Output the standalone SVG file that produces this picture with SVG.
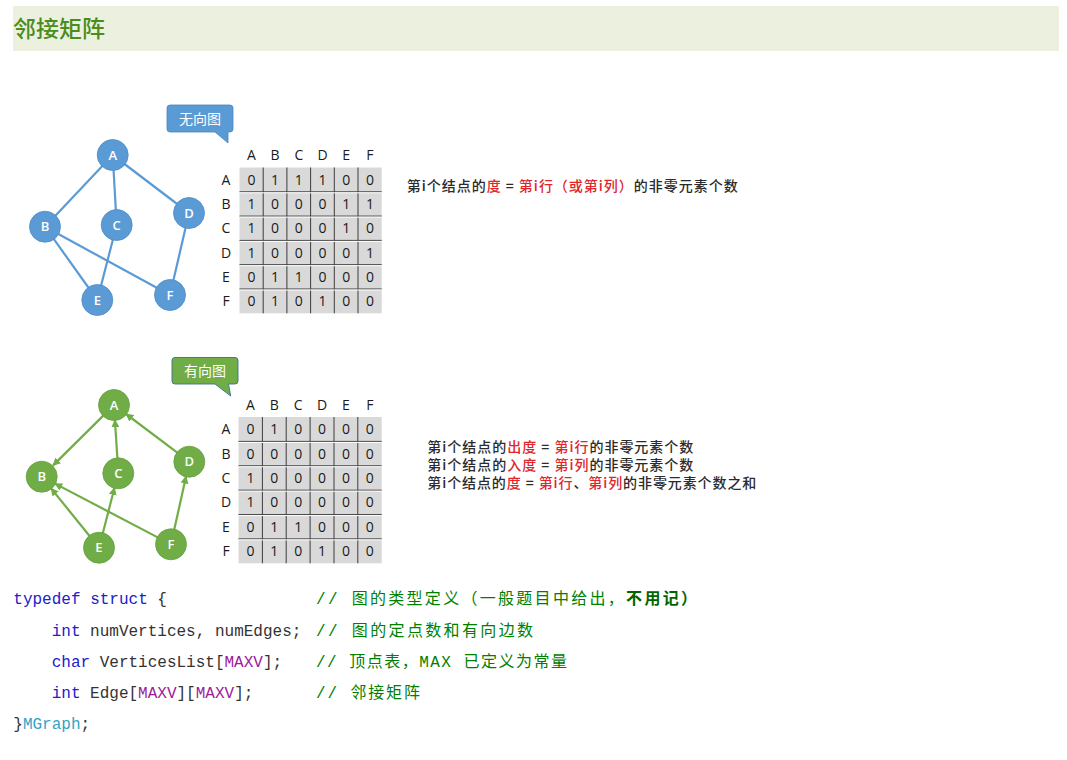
<svg xmlns="http://www.w3.org/2000/svg" width="1067" height="760" viewBox="0 0 1067 760">
<defs>
<style>
.lbl{font-family:"Open Sans","Liberation Sans",sans-serif;font-size:13px;font-weight:600;fill:#fff;text-anchor:middle}
.mx{font-family:"Open Sans","Liberation Sans",sans-serif;font-size:14px;fill:#1a1a1a;text-anchor:middle}
.cell{fill:#d9d9d9}
.vl{stroke:#3c3c3c;stroke-width:1}
.hl{stroke:#3c3c3c;stroke-width:1}
.hw{stroke:#ffffff;stroke-width:1}
.ue{stroke:#5b9bd5;stroke-width:2.2;fill:none}
.de{stroke:#70ad47;stroke-width:2.2;fill:none;marker-end:url(#arr)}
.un{fill:#5b9bd5;stroke:#4f8cc6;stroke-width:0.8}
.dn{fill:#70ad47;stroke:#64a03e;stroke-width:0.8}
.desc{font-family:"Noto Sans CJK SC","Noto Sans",sans-serif;font-size:14px;font-weight:500;fill:#2b2b2b}
.red{fill:#e0262b}
.code{font-family:"Liberation Mono","Noto Sans CJK SC",monospace;font-size:16px;fill:#333}
.kw{fill:#2020cc}
.mac{fill:#9b1b9b}
.ty{fill:#33a3c4}
.cm{font-family:"Liberation Mono","Noto Sans CJK SC",monospace;font-size:16px;fill:#008000}
.cn{font-family:"Noto Sans CJK SC",sans-serif}
.co{font-family:"Noto Sans CJK SC",sans-serif;font-size:14px;fill:#fff;text-anchor:middle}
</style>
<marker id="arr" viewBox="0 0 10 10" refX="9" refY="5" markerWidth="8" markerHeight="8" markerUnits="userSpaceOnUse" orient="auto">
<path d="M0,0 L10,5 L0,10 Z" fill="#70ad47"/>
</marker>
</defs>
<rect width="1067" height="760" fill="#ffffff"/>

<g id="header">
<rect x="13" y="6" width="1046" height="45" fill="#ebf1de"/>
<text x="13" y="37" font-family="Noto Sans CJK SC, sans-serif" font-size="23" font-weight="500" fill="#4c8c1c">邻接矩阵</text>
</g>

<!-- Undirected graph -->
<g id="undirected-edges">
<line class="ue" x1="112.7" y1="155" x2="45" y2="226.7"/>
<line class="ue" x1="112.7" y1="155" x2="116.7" y2="225"/>
<line class="ue" x1="112.7" y1="155" x2="189" y2="213"/>
<line class="ue" x1="45" y1="226.7" x2="97.3" y2="300"/>
<line class="ue" x1="45" y1="226.7" x2="170" y2="295"/>
<line class="ue" x1="116.7" y1="225" x2="97.3" y2="300"/>
<line class="ue" x1="189" y1="213" x2="170" y2="295"/>
</g>
<g id="u-A"><circle class="un" cx="112.7" cy="155" r="15.5"/><text class="lbl" x="112.7" y="159.5">A</text></g>
<g id="u-B"><circle class="un" cx="45" cy="226.7" r="15.5"/><text class="lbl" x="45" y="231.2">B</text></g>
<g id="u-C"><circle class="un" cx="116.7" cy="225" r="15.5"/><text class="lbl" x="116.7" y="229.5">C</text></g>
<g id="u-D"><circle class="un" cx="189" cy="213" r="15.5"/><text class="lbl" x="189" y="217.5">D</text></g>
<g id="u-E"><circle class="un" cx="97.3" cy="300" r="15.5"/><text class="lbl" x="97.3" y="304.5">E</text></g>
<g id="u-F"><circle class="un" cx="170" cy="295" r="15.5"/><text class="lbl" x="170" y="299.5">F</text></g>

<g id="callout-undirected">
<path d="M170,105 H230 Q233,105 233,108 V129 Q233,132 230,132 H228 L228,143 L215,132 H170 Q167,132 167,129 V108 Q167,105 170,105 Z" fill="#5b9bd5" stroke="#4a86bf" stroke-width="0.8"/>
<text class="co" x="200" y="123.5">无向图</text>
</g>

<g id="matrix-undirected">
<rect class="cell" x="239.5" y="167.5" width="142.2" height="145.8"/>
<g class="vl">
<line x1="263.2" y1="167.5" x2="263.2" y2="313.3"/>
<line x1="286.9" y1="167.5" x2="286.9" y2="313.3"/>
<line x1="310.6" y1="167.5" x2="310.6" y2="313.3"/>
<line x1="334.3" y1="167.5" x2="334.3" y2="313.3"/>
<line x1="358" y1="167.5" x2="358" y2="313.3"/>
</g>
<g class="hl">
<line x1="239.5" y1="191.8" x2="381.7" y2="191.8"/>
<line x1="239.5" y1="216.1" x2="381.7" y2="216.1"/>
<line x1="239.5" y1="240.4" x2="381.7" y2="240.4"/>
<line x1="239.5" y1="264.7" x2="381.7" y2="264.7"/>
<line x1="239.5" y1="289" x2="381.7" y2="289"/>
</g>
<g class="hw">
<line x1="239.5" y1="192.8" x2="381.7" y2="192.8"/>
<line x1="239.5" y1="217.1" x2="381.7" y2="217.1"/>
<line x1="239.5" y1="241.4" x2="381.7" y2="241.4"/>
<line x1="239.5" y1="265.7" x2="381.7" y2="265.7"/>
<line x1="239.5" y1="290" x2="381.7" y2="290"/>
</g>
<text class="mx" x="251.4 275.1 298.8 322.5 346.2 369.9" y="160">ABCDEF</text>
<text class="mx" x="226" y="184.7">A</text>
<text class="mx" x="226" y="209">B</text>
<text class="mx" x="226" y="233.3">C</text>
<text class="mx" x="226" y="257.6">D</text>
<text class="mx" x="226" y="281.9">E</text>
<text class="mx" x="226" y="306.2">F</text>
<text class="mx" x="251.4 275.1 298.8 322.5 346.2 369.9" y="184.7">011100</text>
<text class="mx" x="251.4 275.1 298.8 322.5 346.2 369.9" y="209">100011</text>
<text class="mx" x="251.4 275.1 298.8 322.5 346.2 369.9" y="233.3">100010</text>
<text class="mx" x="251.4 275.1 298.8 322.5 346.2 369.9" y="257.6">100001</text>
<text class="mx" x="251.4 275.1 298.8 322.5 346.2 369.9" y="281.9">011000</text>
<text class="mx" x="251.4 275.1 298.8 322.5 346.2 369.9" y="306.2">010100</text>
</g>

<g id="desc-undirected">
<text class="desc" x="406.7" y="190.5" textLength="331" lengthAdjust="spacing">第i个结点的<tspan class="red">度</tspan> = <tspan class="red">第i行（或第i列）</tspan>的非零元素个数</text>
</g>

<!-- Directed graph -->
<g id="directed-edges">
<line class="de" x1="103.3" y1="415.6" x2="53.1" y2="465.4"/>
<line class="de" x1="117.4" y1="458.3" x2="114.9" y2="420"/>
<line class="de" x1="177.3" y1="452.7" x2="126" y2="414"/>
<line class="de" x1="89.6" y1="536" x2="51.1" y2="488.4"/>
<line class="de" x1="102.8" y1="533.2" x2="114.5" y2="487.8"/>
<line class="de" x1="157.7" y1="537.4" x2="55" y2="483.6"/>
<line class="de" x1="174.2" y1="529.7" x2="186.1" y2="476.3"/>
</g>
<g id="d-A"><circle class="dn" cx="114" cy="405" r="15.5"/><text class="lbl" x="114" y="409.5">A</text></g>
<g id="d-B"><circle class="dn" cx="41.7" cy="476.7" r="15.5"/><text class="lbl" x="41.7" y="481.2">B</text></g>
<g id="d-C"><circle class="dn" cx="118.3" cy="473.3" r="15.5"/><text class="lbl" x="118.3" y="477.8">C</text></g>
<g id="d-D"><circle class="dn" cx="189.3" cy="461.7" r="15.5"/><text class="lbl" x="189.3" y="466.2">D</text></g>
<g id="d-E"><circle class="dn" cx="99" cy="547.7" r="15.5"/><text class="lbl" x="99" y="552.2">E</text></g>
<g id="d-F"><circle class="dn" cx="171" cy="544.3" r="15.5"/><text class="lbl" x="171" y="548.8">F</text></g>

<g id="callout-directed">
<path d="M175,357.5 H235 Q238,357.5 238,360.5 V381 Q238,384 235,384 H228.5 L230.7,396 L215,384 H175 Q172,384 172,381 V360.5 Q172,357.5 175,357.5 Z" fill="#70ad47" stroke="#3e6f8a" stroke-width="0.9"/>
<text class="co" x="205" y="376">有向图</text>
</g>

<g id="matrix-directed">
<rect class="cell" x="238.5" y="417" width="143.2" height="146.3"/>
<g class="vl">
<line x1="262.4" y1="417" x2="262.4" y2="563.3"/>
<line x1="286.2" y1="417" x2="286.2" y2="563.3"/>
<line x1="310.1" y1="417" x2="310.1" y2="563.3"/>
<line x1="334" y1="417" x2="334" y2="563.3"/>
<line x1="357.8" y1="417" x2="357.8" y2="563.3"/>
</g>
<g class="hl">
<line x1="238.5" y1="441.4" x2="381.7" y2="441.4"/>
<line x1="238.5" y1="465.8" x2="381.7" y2="465.8"/>
<line x1="238.5" y1="490.2" x2="381.7" y2="490.2"/>
<line x1="238.5" y1="514.6" x2="381.7" y2="514.6"/>
<line x1="238.5" y1="538.9" x2="381.7" y2="538.9"/>
</g>
<g class="hw">
<line x1="238.5" y1="442.4" x2="381.7" y2="442.4"/>
<line x1="238.5" y1="466.8" x2="381.7" y2="466.8"/>
<line x1="238.5" y1="491.2" x2="381.7" y2="491.2"/>
<line x1="238.5" y1="515.6" x2="381.7" y2="515.6"/>
<line x1="238.5" y1="539.9" x2="381.7" y2="539.9"/>
</g>
<text class="mx" x="250.4 274.3 298.2 322 345.9 369.8" y="410">ABCDEF</text>
<text class="mx" x="226" y="434.2">A</text>
<text class="mx" x="226" y="458.6">B</text>
<text class="mx" x="226" y="483">C</text>
<text class="mx" x="226" y="507.4">D</text>
<text class="mx" x="226" y="531.7">E</text>
<text class="mx" x="226" y="556.1">F</text>
<text class="mx" x="250.4 274.3 298.2 322 345.9 369.8" y="434.2">010000</text>
<text class="mx" x="250.4 274.3 298.2 322 345.9 369.8" y="458.6">000000</text>
<text class="mx" x="250.4 274.3 298.2 322 345.9 369.8" y="483">100000</text>
<text class="mx" x="250.4 274.3 298.2 322 345.9 369.8" y="507.4">100000</text>
<text class="mx" x="250.4 274.3 298.2 322 345.9 369.8" y="531.7">011000</text>
<text class="mx" x="250.4 274.3 298.2 322 345.9 369.8" y="556.1">010100</text>
</g>

<g id="desc-directed">
<text class="desc" x="427.3" y="452.3" textLength="266" lengthAdjust="spacing">第i个结点的<tspan class="red">出度</tspan> = <tspan class="red">第i行</tspan>的非零元素个数</text>
<text class="desc" x="427.3" y="470.2" textLength="266" lengthAdjust="spacing">第i个结点的<tspan class="red">入度</tspan> = <tspan class="red">第i列</tspan>的非零元素个数</text>
<text class="desc" x="427.3" y="488.3" textLength="329" lengthAdjust="spacing">第i个结点的<tspan class="red">度</tspan> = <tspan class="red">第i行</tspan>、<tspan class="red">第i列</tspan>的非零元素个数之和</text>
</g>

<g id="code">
<text class="code" x="13.3" y="604"><tspan class="kw">typedef</tspan> <tspan class="kw">struct</tspan> {</text>
<text class="code" x="51.7" y="635.5"><tspan class="kw">int</tspan> numVertices, numEdges;</text>
<text class="code" x="51.7" y="666.5"><tspan class="kw">char</tspan> VerticesList[<tspan class="mac">MAXV</tspan>];</text>
<text class="code" x="51.7" y="697.5"><tspan class="kw">int</tspan> Edge[<tspan class="mac">MAXV</tspan>][<tspan class="mac">MAXV</tspan>];</text>
<text class="code" x="13.3" y="729">}<tspan class="ty">MGraph</tspan>;</text>
<text class="cm" x="316" y="604" textLength="381" lengthAdjust="spacing">// <tspan class="cn">图的类型定义（一般题目中给出，</tspan><tspan class="cn" font-weight="bold" fill="#006400">不用记）</tspan></text>
<text class="cm" x="316" y="635.5" textLength="217" lengthAdjust="spacing">// <tspan class="cn">图的定点数和有向边数</tspan></text>
<text class="cm" x="316" y="666.5" textLength="251" lengthAdjust="spacing">// <tspan class="cn">顶点表，</tspan>MAX <tspan class="cn">已定义为常量</tspan></text>
<text class="cm" x="316" y="697.5" textLength="104" lengthAdjust="spacing">// <tspan class="cn">邻接矩阵</tspan></text>
</g>
</svg>
